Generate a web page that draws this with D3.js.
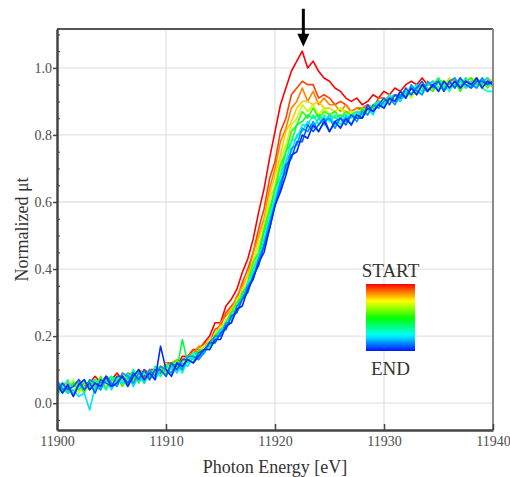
<!DOCTYPE html>
<html>
<head>
<meta charset="utf-8">
<script src="https://cdn.jsdelivr.net/npm/d3@7"></script>
<style>
    body { margin: 0; background: #fff; }
    #chart { width: 510px; height: 477px; }
</style>
</head>
<body>
<div id="chart"></div>
<script>
// photon energy grid [eV]
var energies = [
    11900, 11900.5, 11901, 11901.5, 11902, 11902.5, 11903, 11903.5, 11904, 11904.5,
    11905, 11905.5, 11906, 11906.5, 11907, 11907.5, 11908, 11908.5, 11909, 11909.5,
    11910, 11910.5, 11911, 11911.5, 11912, 11912.5, 11913, 11913.5, 11914, 11914.5,
    11915, 11915.5, 11916, 11916.5, 11917, 11917.5, 11918, 11918.5, 11919, 11919.5,
    11920, 11920.5, 11921, 11921.5, 11922, 11922.5, 11923, 11923.5, 11924, 11924.5,
    11925, 11925.5, 11926, 11926.5, 11927, 11927.5, 11928, 11928.5, 11929, 11929.5,
    11930, 11930.5, 11931, 11931.5, 11932, 11932.5, 11933, 11933.5, 11934, 11934.5,
    11935, 11935.5, 11936, 11936.5, 11937, 11937.5, 11938, 11938.5, 11939, 11939.5,
    11940
];

// normalized absorption of each scan, START (red) -> END (blue)
var spectrum01 = [0.06,0.04,0.06,0.05,0.07,0.05,0.06,0.08,0.06,0.08,0.07,0.09,0.07,0.09,0.08,0.10,0.08,0.10,0.10,0.09,0.12,0.12,0.11,0.14,0.14,0.16,0.16,
    0.18,0.20,0.24,0.24,0.29,0.31,0.34,0.39,0.43,0.49,0.57,0.64,0.73,0.81,0.89,0.94,0.99,1.02,1.05,1.00,1.02,0.99,0.97,0.96,0.94,0.93,0.91,0.90,0.91,0.89,0.90,0.92,0.91,0.93,0.92,0.94,0.93,0.95,0.96,0.95,0.97,0.95,0.95,0.96,0.94,0.96,0.95,0.97,0.94,0.96,0.97,0.95,0.96,0.95];
var spectrum02 = [0.06,0.05,0.03,0.06,0.05,0.06,0.05,0.07,0.05,0.08,0.07,0.06,0.08,0.08,0.09,0.07,0.10,0.09,0.10,0.09,0.12,0.11,0.11,0.13,0.14,0.16,0.15,
    0.18,0.18,0.22,0.23,0.27,0.29,0.31,0.36,0.40,0.45,0.52,0.58,0.67,0.72,0.81,0.85,0.92,0.94,0.96,0.95,0.95,0.91,0.92,0.91,0.89,0.90,0.89,0.87,0.88,0.88,0.89,0.88,0.91,0.91,0.90,0.92,0.92,0.92,0.94,0.93,0.95,0.93,0.95,0.96,0.94,0.96,0.96,0.94,0.97,0.95,0.96,0.95,0.97,0.95];
var spectrum03 = [0.05,0.04,0.06,0.05,0.06,0.04,0.07,0.05,0.07,0.07,0.06,0.08,0.07,0.09,0.06,0.10,0.09,0.07,0.10,0.11,0.09,0.12,0.13,0.11,0.14,0.15,0.17,
    0.17,0.19,0.20,0.24,0.26,0.28,0.32,0.35,0.38,0.45,0.50,0.55,0.64,0.70,0.78,0.82,0.88,0.90,0.94,0.90,0.93,0.89,0.91,0.89,0.89,0.87,0.89,0.87,0.88,0.87,0.89,0.88,0.90,0.90,0.92,0.90,0.93,0.92,0.94,0.92,0.95,0.95,0.96,0.94,0.96,0.95,0.97,0.94,0.96,0.97,0.95,0.97,0.95,0.96];
var spectrum04 = [0.04,0.06,0.05,0.03,0.07,0.05,0.04,0.06,0.07,0.05,0.07,0.05,0.09,0.06,0.08,0.09,0.07,0.10,0.08,0.10,0.12,0.10,0.10,0.13,0.13,0.15,0.15,
    0.17,0.19,0.20,0.23,0.24,0.28,0.30,0.34,0.38,0.42,0.49,0.54,0.62,0.68,0.74,0.81,0.84,0.88,0.90,0.90,0.89,0.90,0.88,0.88,0.87,0.88,0.87,0.87,0.86,0.88,0.87,0.89,0.89,0.91,0.90,0.92,0.91,0.94,0.92,0.94,0.93,0.96,0.93,0.96,0.94,0.97,0.95,0.94,0.96,0.95,0.97,0.94,0.97,0.96];
var spectrum05 = [0.05,0.05,0.04,0.07,0.03,0.06,0.05,0.07,0.05,0.07,0.05,0.08,0.06,0.09,0.06,0.09,0.09,0.07,0.11,0.10,0.11,0.09,0.12,0.12,0.14,0.13,0.16,
    0.17,0.17,0.21,0.22,0.25,0.26,0.31,0.33,0.36,0.43,0.47,0.52,0.61,0.65,0.73,0.77,0.83,0.85,0.89,0.87,0.89,0.86,0.88,0.86,0.87,0.88,0.86,0.87,0.86,0.88,0.87,0.89,0.88,0.91,0.89,0.92,0.91,0.93,0.91,0.94,0.96,0.93,0.95,0.94,0.96,0.96,0.94,0.97,0.94,0.96,0.97,0.95,0.96,0.95];
var spectrum06 = [0.06,0.04,0.03,0.06,0.06,0.03,0.07,0.04,0.08,0.04,0.07,0.08,0.05,0.08,0.07,0.10,0.06,0.10,0.09,0.11,0.09,0.11,0.13,0.10,0.14,0.13,0.16,
    0.15,0.18,0.20,0.22,0.23,0.27,0.30,0.32,0.36,0.42,0.45,0.52,0.58,0.64,0.71,0.75,0.81,0.83,0.87,0.85,0.88,0.85,0.87,0.86,0.87,0.85,0.87,0.86,0.87,0.86,0.88,0.88,0.90,0.89,0.91,0.90,0.93,0.92,0.94,0.92,0.95,0.94,0.93,0.96,0.96,0.94,0.96,0.93,0.96,0.97,0.95,0.96,0.94,0.96];
var spectrum07 = [0.05,0.03,0.05,0.06,0.04,0.06,0.05,0.07,0.05,0.07,0.08,0.05,0.08,0.07,0.10,0.06,0.09,0.08,0.10,0.08,0.11,0.12,0.10,0.19,0.12,0.15,0.15,
    0.16,0.17,0.20,0.21,0.24,0.27,0.28,0.33,0.35,0.40,0.44,0.51,0.56,0.64,0.68,0.75,0.78,0.83,0.84,0.86,0.85,0.86,0.84,0.86,0.85,0.86,0.85,0.86,0.85,0.88,0.86,0.89,0.90,0.89,0.91,0.92,0.90,0.93,0.92,0.95,0.94,0.93,0.95,0.97,0.94,0.96,0.94,0.96,0.95,0.94,0.97,0.95,0.96,0.95];
var spectrum08 = [0.02,0.05,0.07,0.03,0.05,0.07,0.04,0.07,0.06,0.04,0.08,0.06,0.07,0.05,0.10,0.07,0.09,0.07,0.11,0.08,0.11,0.10,0.12,0.09,0.13,0.15,0.14,
    0.15,0.18,0.18,0.21,0.24,0.25,0.29,0.31,0.36,0.39,0.44,0.48,0.56,0.61,0.68,0.72,0.78,0.79,0.83,0.83,0.86,0.83,0.86,0.84,0.86,0.83,0.86,0.85,0.87,0.85,0.88,0.87,0.90,0.89,0.92,0.90,0.92,0.91,0.94,0.94,0.92,0.95,0.96,0.94,0.95,0.93,0.96,0.95,0.97,0.94,0.96,0.94,0.93,0.93];
var spectrum09 = [0.05,0.06,0.03,0.04,0.02,0.03,-0.02,0.05,0.04,0.07,0.04,0.07,0.06,0.09,0.05,0.08,0.06,0.09,0.07,0.10,0.08,0.11,0.09,0.12,0.11,0.14,0.13,
    0.16,0.16,0.19,0.22,0.22,0.26,0.27,0.32,0.33,0.39,0.42,0.49,0.54,0.61,0.66,0.72,0.75,0.80,0.81,0.84,0.82,0.85,0.83,0.86,0.83,0.85,0.86,0.83,0.87,0.86,0.88,0.86,0.90,0.88,0.91,0.92,0.90,0.93,0.92,0.95,0.93,0.95,0.96,0.93,0.96,0.94,0.95,0.97,0.94,0.96,0.94,0.96,0.97,0.94];
var spectrum10 = [0.07,0.04,0.05,0.02,0.06,0.04,0.07,0.06,0.04,0.08,0.06,0.05,0.09,0.08,0.06,0.09,0.07,0.10,0.08,0.11,0.10,0.09,0.12,0.10,0.14,0.14,0.13,
    0.15,0.18,0.20,0.20,0.24,0.24,0.29,0.31,0.35,0.37,0.43,0.47,0.54,0.59,0.66,0.69,0.76,0.77,0.82,0.81,0.84,0.81,0.84,0.85,0.82,0.85,0.84,0.86,0.84,0.87,0.86,0.89,0.88,0.90,0.91,0.89,0.92,0.91,0.95,0.93,0.92,0.96,0.94,0.96,0.93,0.96,0.97,0.94,0.96,0.95,0.94,0.97,0.95,0.96];
var spectrum11 = [0.03,0.06,0.04,0.05,0.07,0.04,0.06,0.03,0.07,0.06,0.05,0.08,0.08,0.06,0.09,0.07,0.10,0.07,0.10,0.10,0.08,0.12,0.10,0.13,0.13,0.12,0.15,
    0.16,0.18,0.18,0.21,0.22,0.26,0.27,0.31,0.33,0.38,0.41,0.47,0.52,0.59,0.64,0.71,0.73,0.78,0.78,0.83,0.81,0.83,0.85,0.81,0.84,0.85,0.83,0.86,0.85,0.85,0.89,0.87,0.89,0.91,0.89,0.92,0.91,0.94,0.92,0.94,0.96,0.93,0.95,0.96,0.93,0.96,0.94,0.97,0.95,0.94,0.96,0.96,0.95,0.96];
var spectrum12 = [0.06,0.03,0.055,0.02,0.055,0.07,0.04,0.06,0.05,0.08,0.05,0.06,0.08,0.05,0.08,0.10,0.07,0.09,0.07,0.17,0.10,0.08,0.12,0.11,0.13,0.12,0.14,
    0.16,0.16,0.19,0.19,0.23,0.24,0.28,0.29,0.34,0.37,0.42,0.45,0.52,0.59,0.63,0.68,0.74,0.75,0.80,0.79,0.83,0.81,0.84,0.81,0.84,0.82,0.85,0.83,0.86,0.85,0.88,0.87,0.89,0.88,0.91,0.90,0.93,0.91,0.94,0.92,0.95,0.93,0.95,0.93,0.96,0.94,0.96,0.94,0.96,0.95,0.97,0.94,0.96,0.95];

// hue of each scan (0 = red START ... blue END)
var scanHues = [0, 15, 30, 48, 75, 110, 135, 165, 188, 205, 218, 230];

var xTicks = [11900, 11910, 11920, 11930, 11940];
var yTicks = [0.0, 0.2, 0.4, 0.6, 0.8, 1.0];
var yMinorTicks = [-0.05, 0.05, 0.1, 0.15, 0.25, 0.3, 0.35, 0.45, 0.5, 0.55, 0.65, 0.7, 0.75, 0.85, 0.9, 0.95, 1.05, 1.1];
var peakMarker = [11922.6, 1.063];

class xanesPlot {
    constructor(params) {
        var me = this;
        this.cont = d3.select("#" + params.idCont);
        this.width = params.width ? params.width : 510;
        this.height = params.height ? params.height : 477;
        this.spectra = params.spectra;

        var svg, g, x, y, line
        ,serif = "Liberation Serif, serif"
        ,margin = {left: 57, right: 17, top: 29, bottom: 47}
        ,hueColor = h => d3.hsl(h, 1, 0.5).formatHex();

        this.init = function () {
            var w = me.width - margin.left - margin.right
            ,h = me.height - margin.top - margin.bottom;

            x = d3.scaleLinear().domain([11900, 11940]).range([0, w]);
            y = d3.scaleLinear().domain([-0.08, 1.116]).range([h, 0]);

            line = d3.line()
                    .x((d, i) => x(energies[i]))
                    .y(d => y(d));

            svg = me.cont.append("svg")
                    .attr("width", me.width)
                    .attr("height", me.height)
                    .attr("font-family", serif);

            svg.append("defs").append("clipPath")
                    .attr("id", "plotClip")
                    .append("rect")
                    .attr("width", w)
                    .attr("height", h);

            g = svg.append("g")
                    .attr("transform", `translate(${margin.left},${margin.top})`);

            //grille
            g.append("g")
                    .selectAll("line")
                    .data(yTicks)
                    .join("line")
                    .attr("x1", 0).attr("x2", w)
                    .attr("y1", d => y(d)).attr("y2", d => y(d))
                    .attr("stroke", "#e3e3e3")
                    .attr("stroke-width", 1.3);
            g.append("g")
                    .selectAll("line")
                    .data(xTicks.slice(1, -1))
                    .join("line")
                    .attr("x1", d => x(d)).attr("x2", d => x(d))
                    .attr("y1", 0).attr("y2", h)
                    .attr("stroke", "#e3e3e3")
                    .attr("stroke-width", 1.3);

            //spectres
            g.append("g")
                    .attr("clip-path", "url(#plotClip)")
                    .selectAll("path")
                    .data(me.spectra)
                    .join("path")
                    .attr("fill", "none")
                    .attr("stroke", (d, i) => hueColor(scanHues[i]))
                    .attr("stroke-width", 1.6)
                    .attr("stroke-linejoin", "round")
                    .attr("d", d => line(d));

            //cadre haut et droite
            g.append("line")
                    .attr("x1", 0).attr("x2", w).attr("y1", 0).attr("y2", 0)
                    .attr("stroke", "#555").attr("stroke-width", 2);
            g.append("line")
                    .attr("x1", w).attr("x2", w).attr("y1", 0).attr("y2", h)
                    .attr("stroke", "#8a8a8a").attr("stroke-width", 2);

            //axes
            var gx = g.append("g")
                    .attr("transform", `translate(0,${h})`)
                    .call(d3.axisBottom(x)
                        .tickValues(xTicks)
                        .tickFormat(d3.format("d"))
                        .tickSize(-6)
                        .tickSizeOuter(0)
                        .tickPadding(6));

            var gyMinor = g.append("g")
                    .call(d3.axisLeft(y)
                        .tickValues(yMinorTicks)
                        .tickFormat("")
                        .tickSize(-3)
                        .tickSizeOuter(0));
            gyMinor.select(".domain").remove();
            gyMinor.selectAll(".tick line").attr("stroke", "#555").attr("stroke-width", 1.2);

            var gy = g.append("g")
                    .call(d3.axisLeft(y)
                        .tickValues(yTicks)
                        .tickFormat(d3.format(".1f"))
                        .tickSize(4)
                        .tickSizeOuter(0)
                        .tickPadding(1));

            [gx, gy].forEach(a => {
                a.attr("font-family", serif).attr("font-size", 14);
                a.select(".domain").attr("stroke", "#444").attr("stroke-width", 2.5);
                a.selectAll(".tick line").attr("stroke", "#444").attr("stroke-width", 1.5);
                a.selectAll("text").attr("fill", "#4d4d4d");
            });

            //titres
            svg.append("text")
                    .attr("x", margin.left + w / 2)
                    .attr("y", 473)
                    .attr("text-anchor", "middle")
                    .attr("font-size", 18)
                    .attr("fill", "#333")
                    .text("Photon Energy [eV]");
            svg.append("text")
                    .attr("transform", `translate(28,${margin.top + h / 2}) rotate(-90)`)
                    .attr("text-anchor", "middle")
                    .attr("font-size", 18)
                    .attr("fill", "#333")
                    .text("Normalized μt");

            //fleche sur le pic
            var ax = margin.left + x(peakMarker[0])
            ,ay = margin.top + y(peakMarker[1]);
            svg.append("line")
                    .attr("x1", ax).attr("x2", ax)
                    .attr("y1", ay - 38).attr("y2", ay - 10)
                    .attr("stroke", "#000").attr("stroke-width", 3);
            svg.append("path")
                    .attr("d", `M${ax - 6},${ay - 13} L${ax + 6},${ay - 13} L${ax},${ay} Z`)
                    .attr("fill", "#000");

            //legende START -> END
            var lg = svg.append("g").attr("transform", "translate(366,284)");
            var grad = svg.select("defs").append("linearGradient")
                    .attr("id", "scanGrad")
                    .attr("x1", 0).attr("y1", 0).attr("x2", 0).attr("y2", 1);
            grad.selectAll("stop")
                    .data(d3.range(0, 1.001, 0.05))
                    .join("stop")
                    .attr("offset", d => d)
                    .attr("stop-color", d => hueColor(d * 235));
            lg.append("rect")
                    .attr("width", 49)
                    .attr("height", 67)
                    .attr("fill", "url(#scanGrad)");
            lg.append("text")
                    .attr("x", 24.5).attr("y", -7)
                    .attr("text-anchor", "middle")
                    .attr("font-size", 19)
                    .attr("fill", "#333")
                    .text("START");
            lg.append("text")
                    .attr("x", 24.5).attr("y", 91)
                    .attr("text-anchor", "middle")
                    .attr("font-size", 19)
                    .attr("fill", "#333")
                    .text("END");
        };

        this.init();
    }
}

new xanesPlot({
    idCont: "chart",
    width: 510,
    height: 477,
    spectra: [spectrum01, spectrum02, spectrum03, spectrum04, spectrum05, spectrum06,
              spectrum07, spectrum08, spectrum09, spectrum10, spectrum11, spectrum12]
});
</script>
</body>
</html>
